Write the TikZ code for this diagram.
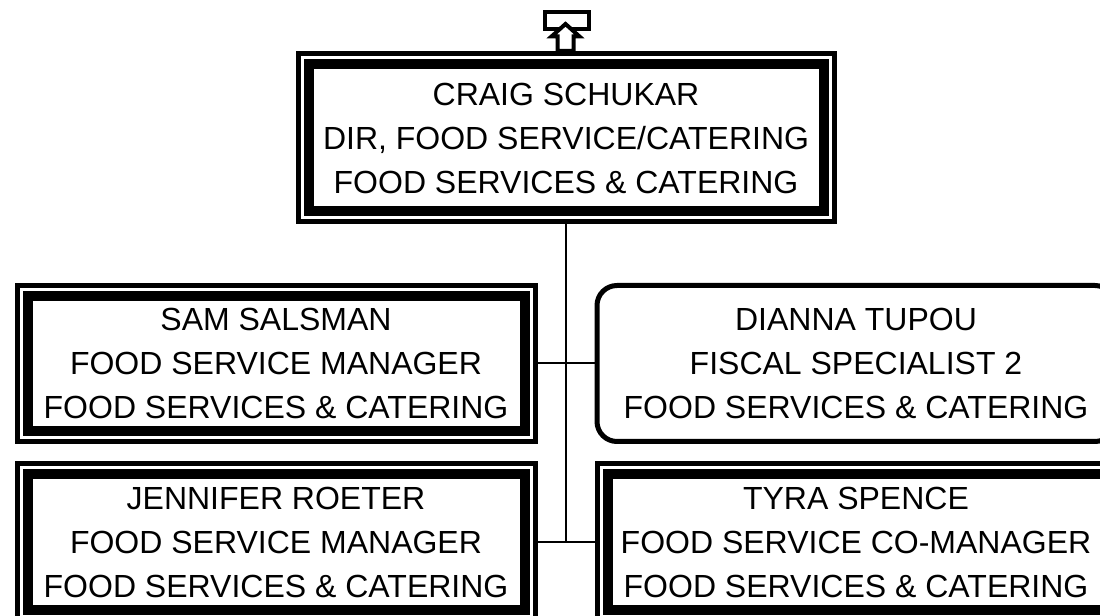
\documentclass[tikz,border=0pt]{standalone}
\usepackage{fontspec}
\setmainfont{Liberation Sans}
\usetikzlibrary{positioning}

\begin{document}
\begin{tikzpicture}[
        x=0.75pt, y=-0.75pt,
        every node/.style={align=center, inner sep=0pt, outer sep=0pt,
            font=\fontsize{24}{33}\selectfont},
        link/.style={line width=1.5pt}
    ]

    \tikzset{
    dblbox/.style={draw, line width=3.75pt, minimum width=388.5pt, minimum height=117pt,
        path picture={\draw[line width=7.5pt]
            ([xshift=7.875pt, yshift=7.875pt]path picture bounding box.south west) rectangle
            ([xshift=-7.875pt, yshift=-7.875pt]path picture bounding box.north east);}},
    roundbox/.style={draw, line width=3.75pt, rounded corners=15pt,
        minimum width=388.5pt, minimum height=117pt},
    icon/.style={line width=3pt, fill=white}
}

    \useasboundingbox (0,0) rectangle (1100,616);

    \node[dblbox, minimum width=402pt, minimum height=126pt] (craig) at (566,138)
        {CRAIG SCHUKAR\\DIR, FOOD SERVICE/CATERING\\FOOD SERVICES \& CATERING};
    \node[dblbox] (sam) at (276,363.5)
        {SAM SALSMAN\\FOOD SERVICE MANAGER\\FOOD SERVICES \& CATERING};
    \node[roundbox] (dianna) at (856,363.5)
        {DIANNA TUPOU\\FISCAL SPECIALIST 2\\FOOD SERVICES \& CATERING};
    \node[dblbox] (jennifer) at (276,542)
        {JENNIFER ROETER\\FOOD SERVICE MANAGER\\FOOD SERVICES \& CATERING};
    \node[dblbox] (tyra) at (856,542)
        {TYRA SPENCE\\FOOD SERVICE CO-MANAGER\\FOOD SERVICES \& CATERING};

    \draw[link] (craig.south) -- (craig.south |- jennifer.east);
    \draw[link] (sam.east) -- (dianna.west);
    \draw[link] (jennifer.east) -- (tyra.west);

    % up marker above the top box
    \draw[icon] (544.7,12) rectangle (589,28.7);
    \draw[icon] (565.5,24) -- (579.5,36.5) -- (573.5,36.5) -- (573.5,51)
        -- (557.5,51) -- (557.5,36.5) -- (551.5,36.5) -- cycle;
\end{tikzpicture}
\end{document}
